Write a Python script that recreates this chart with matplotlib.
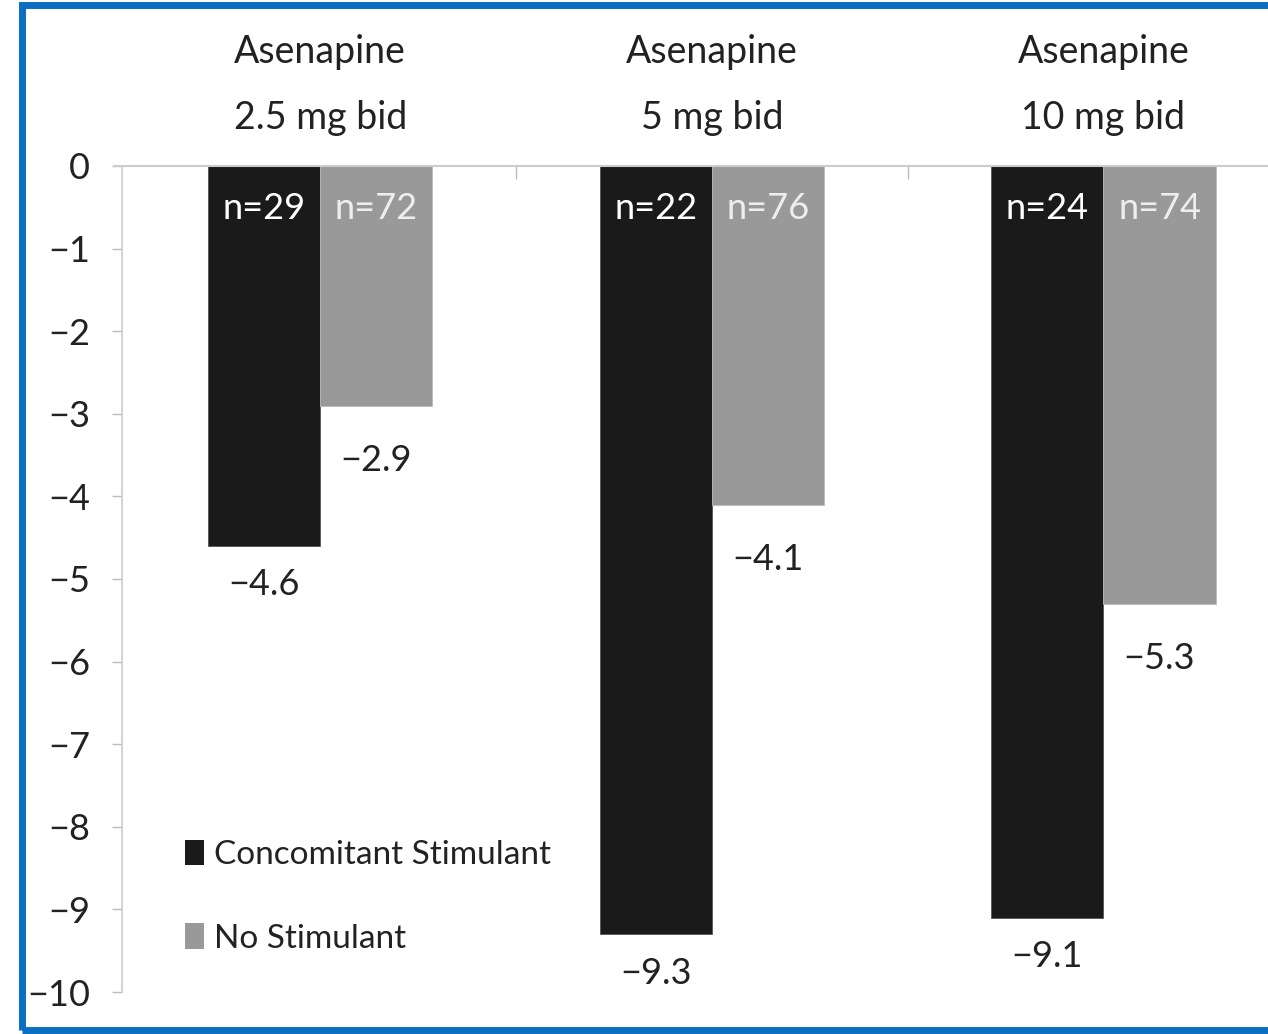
import matplotlib
matplotlib.use("Agg")
import matplotlib.pyplot as plt
from matplotlib.patches import Rectangle, Patch
import numpy as np

plt.rcParams['font.family'] = ['Lato', 'DejaVu Sans']

groups = ["Asenapine\n2.5 mg bid", "Asenapine\n5 mg bid", "Asenapine\n10 mg bid"]
stim_vals = [-4.6, -9.3, -9.1]
nostim_vals = [-2.9, -4.1, -5.3]
stim_n = ["n=29", "n=22", "n=24"]
nostim_n = ["n=72", "n=76", "n=74"]
series_names = ["Concomitant Stimulant", "No Stimulant"]
yticks = list(range(0, -11, -1))

black = "#1a1a1a"
gray = "#999999"

fig = plt.figure(figsize=(12.68, 10.34), dpi=100)
ax = fig.add_axes([0.0962, 0.0406, 0.9038, 0.7989])

x = np.arange(len(groups))
w = 0.286
ax.bar(x - w / 2, stim_vals, w, color=black, edgecolor="#555555", linewidth=0.6)
ax.bar(x + w / 2, nostim_vals, w, color=gray, edgecolor="#bbbbbb", linewidth=0.6)

ax.set_xlim(-0.506, 2.42)
ax.set_ylim(-10, 0)

# n labels inside bars, values below bars, group titles above
for i in range(len(groups)):
    ax.text(x[i] - w / 2, -0.52, stim_n[i], color="white", ha="center", va="center", fontsize=26)
    ax.text(x[i] + w / 2, -0.52, nostim_n[i], color="#eeeeee", ha="center", va="center", fontsize=26)
    ax.text(x[i] - w / 2, stim_vals[i] - 0.47, "\u2212" + str(abs(stim_vals[i])),
            ha="center", va="center", fontsize=26, color="#222222")
    ax.text(x[i] + w / 2, nostim_vals[i] - 0.66, "\u2212" + str(abs(nostim_vals[i])),
            ha="center", va="center", fontsize=26, color="#222222")
    ax.text(x[i], 0.98, groups[i], ha="center", va="center", fontsize=27,
            linespacing=2.05, color="#222222")

# y axis
ax.set_yticks(yticks)
ax.set_yticklabels([str(t) if t == 0 else "\u2212" + str(abs(t)) for t in yticks], fontsize=26, color="#222222")
ax.tick_params(axis="y", length=7, width=1, color="#bbbbbb", pad=16)

# x axis on top with boundary ticks
ax.xaxis.tick_top()
ax.set_xticks([0.5, 1.5])
ax.set_xticklabels([])
ax.tick_params(axis="x", direction="in", length=9, width=1, color="#bbbbbb")

for s in ["right", "bottom"]:
    ax.spines[s].set_visible(False)
ax.spines["left"].set_color("#cccccc")
ax.spines["top"].set_color("#cccccc")
ax.spines["left"].set_linewidth(1.2)
ax.spines["top"].set_linewidth(1.5)
ax.spines["top"].set_bounds(-0.526, 2.42)

handles = [Patch(facecolor=black), Patch(facecolor=gray)]
leg = ax.legend(handles, series_names, loc="lower left", bbox_to_anchor=(0.029, 0.01),
                frameon=False, fontsize=24, handlelength=0.55, handleheight=0.8,
                handletextpad=0.3, labelspacing=1.6)
for t in leg.get_texts():
    t.set_color("#222222")

# blue frame
fig.patches.append(Rectangle((22 / 1268, 4 / 1034), 1.0, 1025 / 1034, transform=fig.transFigure,
                             fill=False, edgecolor="#0a6fc2", linewidth=5))

fig.savefig("out.png", dpi=100)
